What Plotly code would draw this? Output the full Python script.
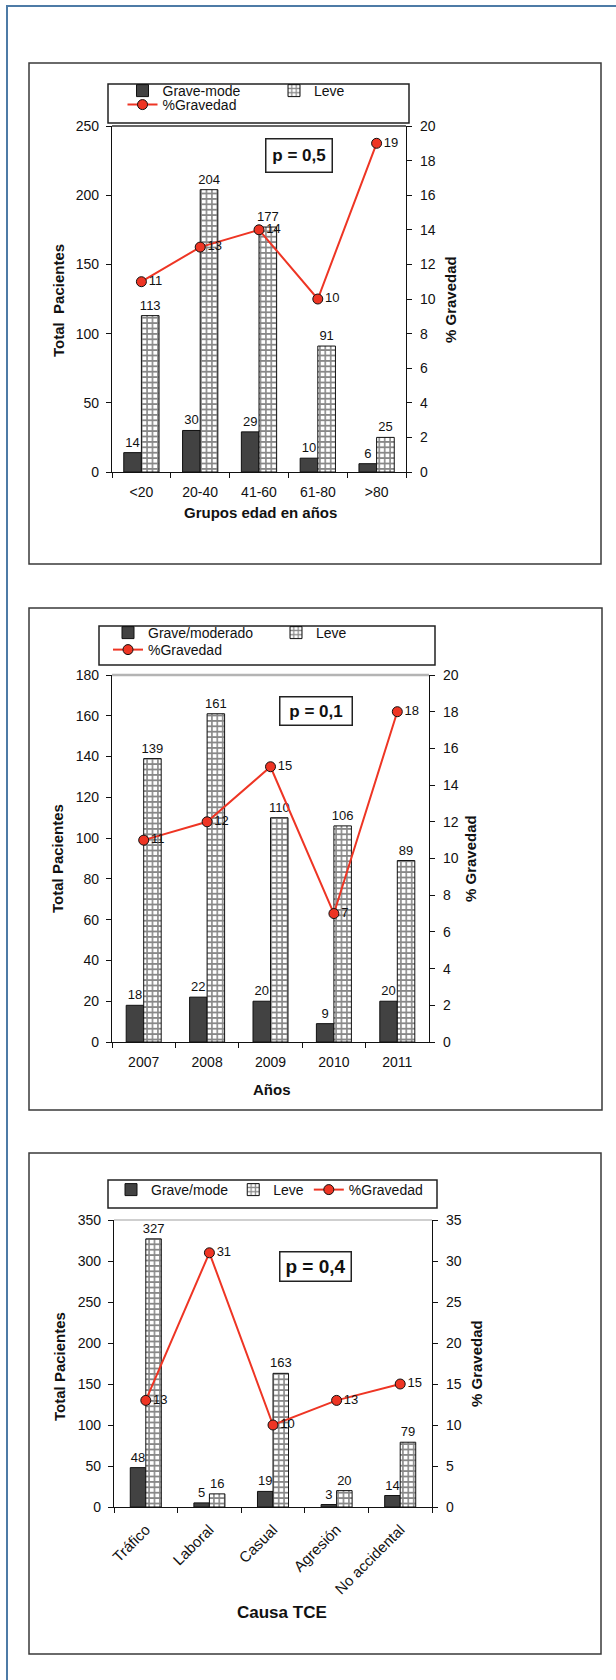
import plotly.graph_objects as go

# ---- data -------------------------------------------------------------
edad_cats = ["<20", "20-40", "41-60", "61-80", ">80"]
edad_grave = [14, 30, 29, 10, 6]
edad_leve = [113, 204, 177, 91, 25]
edad_pct = [11, 13, 14, 10, 19]

anio_cats = ["2007", "2008", "2009", "2010", "2011"]
anio_grave = [18, 22, 20, 9, 20]
anio_leve = [139, 161, 110, 106, 89]
anio_pct = [11, 12, 15, 7, 18]

causa_cats = ["Tráfico", "Laboral", "Casual", "Agresión", "No accidental"]
causa_grave = [48, 5, 19, 3, 14]
causa_leve = [327, 16, 163, 20, 79]
causa_pct = [13, 31, 10, 13, 15]

# ---- page geometry (pixels, origin top-left) --------------------------
W, H = 616, 1680
AX = "#111111"
RED = "#ee3524"
FONT = "Liberation Sans, Arial, sans-serif"


def px(x):
    return x / W


def py(y):
    return 1 - y / H


panels = [
    dict(cats=edad_cats, grave=edad_grave, leve=edad_leve, pct=edad_pct,
         grave_name="Grave-mode", yrange=[0, 250], ydtick=50, y2range=[0, 20], y2dtick=2,
         box=(29, 63, 601, 564), plot=(112, 126, 406, 472), bar_w=0.30,
         legbox=(108, 84, 409, 123), legs=[("legend", 122.5, 75, 106.5), ("legend2", 122.5, 89, None)],
         top_line=("#333333", 1.5),
         p_text="p = 0,5", p_center=(298.5, 155), p_size=(65, 32), p_font=17,
         ytitle="Total\u00a0 Pacientes", ytitle_c=(58, 301), y2title_c=(450, 300),
         xtitle="Grupos edad en años", xtitle_c=(260, 512), tickangle=0, xtick_size=14, xt_font=None),
    dict(cats=anio_cats, grave=anio_grave, leve=anio_leve, pct=anio_pct,
         grave_name="Grave/moderado", yrange=[0, 180], ydtick=20, y2range=[0, 20], y2dtick=2,
         box=(29, 608, 602, 1110), plot=(112, 675, 429, 1042), bar_w=0.276,
         legbox=(99, 626, 435, 665), legs=[("legend3", 108, 617, 123), ("legend4", 108, 634, None)],
         top_line=("#b4b4b4", 2.5),
         p_text="p = 0,1", p_center=(315.5, 711.5), p_size=(71, 27), p_font=17,
         ytitle="Total Pacientes", ytitle_c=(58, 859), y2title_c=(471, 859),
         xtitle="Años", xtitle_c=(272, 1089), tickangle=0, xtick_size=14, xt_font=None),
    dict(cats=causa_cats, grave=causa_grave, leve=causa_leve, pct=causa_pct,
         grave_name="Grave/mode", yrange=[0, 350], ydtick=50, y2range=[0, 35], y2dtick=5,
         box=(29, 1153, 601, 1654), plot=(114, 1220, 432, 1507), bar_w=0.244,
         legbox=(108, 1180, 437, 1208), legs=[("legend5", 111, 1174, None)],
         top_line=("#a0a0a0", 1.2),
         p_text="p = 0,4", p_center=(315, 1266), p_size=(70, 28), p_font=19,
         ytitle="Total Pacientes", ytitle_c=(59, 1367), y2title_c=(476, 1364),
         xtitle="Causa TCE", xtitle_c=(282, 1612), tickangle=-45, xtick_size=15,
         xt_font="Liberation Sans Narrow, Liberation Sans, Arial, sans-serif"),
]


def axis_ids(i):
    xa = "x" if i == 0 else f"x{i + 1}"
    yl = "y" if i == 0 else f"y{2 * i + 1}"
    yr = f"y{2 * i + 2}"
    return xa, yl, yr


def lname(ax):
    return ax[0] + "axis" + ax[1:]


fig = go.Figure()
layout = {}
shapes = []
annotations = []

# page frame: left and top rules
shapes.append(dict(type="line", xref="paper", yref="paper", x0=px(7), x1=px(7), y0=py(6), y1=py(H + 5),
                   line=dict(color="#4d7ba6", width=2)))
shapes.append(dict(type="line", xref="paper", yref="paper", x0=px(6), x1=px(W + 5), y0=py(6), y1=py(6),
                   line=dict(color="#4d7ba6", width=2)))

for i, p in enumerate(panels):
    xa, yl, yr = axis_ids(i)
    w = p["bar_w"]
    bar_legend = p["legs"][0][0]
    line_legend = p["legs"][-1][0]

    fig.add_trace(go.Bar(
        x=p["cats"], y=p["grave"], name=p["grave_name"], xaxis=xa, yaxis=yl,
        width=w, offset=-w,
        marker=dict(color="#424242", line=dict(color=AX, width=1)),
        text=p["grave"], textposition="outside", textangle=0, constraintext="none",
        textfont=dict(size=13, color=AX), cliponaxis=False, legend=bar_legend))
    fig.add_trace(go.Bar(
        x=p["cats"], y=p["leve"], name="Leve", xaxis=xa, yaxis=yl,
        width=w, offset=0,
        marker=dict(color="white", line=dict(color=AX, width=1),
                    pattern=dict(shape="+", fgcolor="#111111", bgcolor="white", size=5.4, solidity=0.5)),
        text=p["leve"], textposition="outside", textangle=0, constraintext="none",
        textfont=dict(size=13, color=AX), cliponaxis=False, legend=bar_legend))
    fig.add_trace(go.Scatter(
        x=p["cats"], y=p["pct"], name="%Gravedad", xaxis=xa, yaxis=yr,
        mode="lines+markers+text",
        line=dict(color=RED, width=2),
        marker=dict(size=10, color=RED, line=dict(color=AX, width=1)),
        text=p["pct"], textposition="middle right", textfont=dict(size=13, color=AX),
        cliponaxis=False, legend=line_legend))

    x0, y0, x1, y1 = p["plot"]
    tick_common = dict(tickwidth=1.2, tickcolor=AX, showgrid=False, zeroline=False, fixedrange=True)

    layout[lname(xa)] = dict(
        domain=[px(x0), px(x1)], anchor=yl, type="category", range=[-0.5, 4.5],
        tickson="boundaries", ticks="outside", ticklen=5, showline=True, linecolor=AX, linewidth=1.3,
        tickfont=dict(size=p["xtick_size"], family=FONT), ticklabelstandoff=7,
        tickangle=p["tickangle"], automargin=False, **tick_common)
    layout[lname(yl)] = dict(
        domain=[py(y1), py(y0)], anchor=xa, range=p["yrange"], tick0=0, dtick=p["ydtick"],
        ticks="outside", ticklen=5, showline=True, linecolor=AX, linewidth=1.3,
        tickfont=dict(size=14), ticklabelstandoff=4, automargin=False, **tick_common)
    layout[lname(yr)] = dict(
        overlaying=yl, side="right", anchor=xa, range=p["y2range"], tick0=0, dtick=p["y2dtick"],
        ticks="outside", ticklen=5, showline=True, linecolor=AX, linewidth=1.3,
        tickfont=dict(size=14), ticklabelstandoff=5, automargin=False, **tick_common)

    # inner halves of the crossing tick marks
    xo = f"x{4 + i}"
    layout[lname(xo)] = dict(
        overlaying=xa, anchor=yl, type="linear", range=[-0.5, 4.5],
        tickvals=[0.5, 1.5, 2.5, 3.5], ticks="inside", ticklen=4,
        showticklabels=False, showline=False, **tick_common)
    for k, (rng, dt, side) in enumerate([(p["yrange"], p["ydtick"], "left"),
                                         (p["y2range"], p["y2dtick"], "right")]):
        yo = f"y{7 + 2 * i + k}"
        layout[lname(yo)] = dict(
            overlaying=yl, side=side, anchor=xa, range=rng, tick0=0, dtick=dt,
            ticks="inside", ticklen=5, showticklabels=False, showline=False, **tick_common)

    # panel frame
    bx0, by0, bx1, by1 = p["box"]
    shapes.append(dict(type="rect", xref="paper", yref="paper", x0=px(bx0), x1=px(bx1), y0=py(by1), y1=py(by0),
                       line=dict(color="#3a3a3a", width=1.5), layer="below"))
    # legend frame
    lx0, ly0, lx1, ly1 = p["legbox"]
    shapes.append(dict(type="rect", xref="paper", yref="paper", x0=px(lx0), x1=px(lx1), y0=py(ly1), y1=py(ly0),
                       line=dict(color="#222222", width=1.5), fillcolor="white", layer="below"))
    # top edge of the plotting area
    tc, tw = p["top_line"]
    shapes.append(dict(type="line", xref=f"{xa} domain", yref=f"{yl} domain", x0=0, x1=1, y0=1, y1=1,
                       line=dict(color=tc, width=tw), layer="below"))

    for name, lx, ltop, ew in p["legs"]:
        cfg = dict(x=px(lx), y=py(ltop), xanchor="left", yanchor="top", orientation="h",
                   bgcolor="rgba(0,0,0,0)", borderwidth=0, font=dict(size=14, color=AX),
                   traceorder="normal", itemclick=False, itemdoubleclick=False)
        if ew:
            cfg["entrywidth"] = ew
            cfg["entrywidthmode"] = "pixels"
        layout[name] = cfg

    # p-value box
    cx, cy = p["p_center"]
    pw, ph = p["p_size"]
    annotations.append(dict(
        xref="paper", yref="paper", x=px(cx), y=py(cy), xanchor="center", yanchor="middle",
        text=f"<b>{p['p_text']}</b>", showarrow=False, font=dict(size=p["p_font"], color=AX),
        bordercolor="#222222", borderwidth=1.5, borderpad=0, bgcolor="white", width=pw, height=ph))

    # axis titles
    tx, ty = p["ytitle_c"]
    annotations.append(dict(xref="paper", yref="paper", x=px(tx), y=py(ty), xanchor="center", yanchor="middle",
                            text=f"<b>{p['ytitle']}</b>", textangle=-90, showarrow=False,
                            font=dict(size=15, color=AX)))
    tx, ty = p["y2title_c"]
    annotations.append(dict(xref="paper", yref="paper", x=px(tx), y=py(ty), xanchor="center", yanchor="middle",
                            text="<b>% Gravedad</b>", textangle=-90, showarrow=False,
                            font=dict(size=15, color=AX)))
    tx, ty = p["xtitle_c"]
    xfont = dict(size=15, color=AX)
    if p["xt_font"]:
        xfont = dict(size=17, color=AX, family=p["xt_font"])
    annotations.append(dict(xref="paper", yref="paper", x=px(tx), y=py(ty), xanchor="center", yanchor="middle",
                            text=f"<b>{p['xtitle']}</b>", showarrow=False, font=xfont))

fig.update_layout(
    width=W, height=H, margin=dict(l=0, r=0, t=0, b=0, pad=0, autoexpand=False),
    paper_bgcolor="white", plot_bgcolor="white",
    font=dict(family=FONT, size=14, color=AX),
    barmode="overlay", hovermode=False, showlegend=True,
    shapes=shapes, annotations=annotations,
    **layout,
)

fig.write_html("out.html")
